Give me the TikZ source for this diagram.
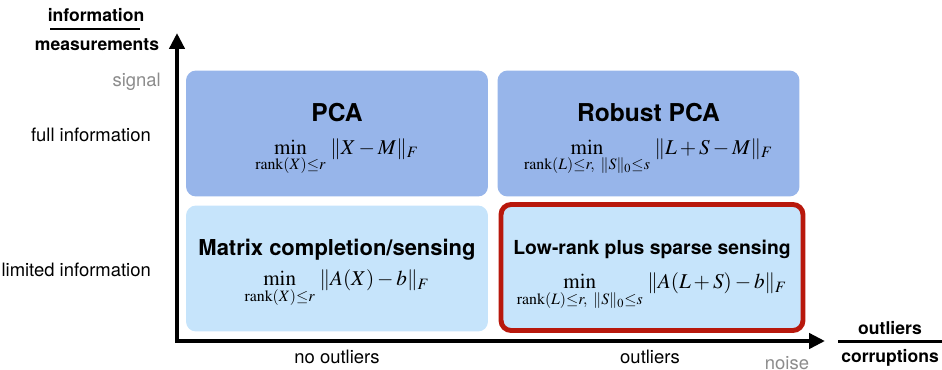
\documentclass[tikz,border=0pt]{standalone}
\usepackage{amsmath}
\usepackage{mathptmx}
\usepackage[no-math]{fontspec}
\setmainfont{TeX Gyre Heros}
\usetikzlibrary{arrows.meta}
\definecolor{fullblue}{RGB}{151,181,234}
\definecolor{limblue}{RGB}{198,228,251}
\definecolor{hired}{RGB}{184,24,12}
\definecolor{softgrey}{RGB}{140,140,140}
\tikzset{
  quad/.style={rounded corners=5.7pt, minimum width=6.04cm, minimum height=2.52cm, inner sep=0pt},
  quadtext/.style={align=center, inner sep=0pt, font=\fontsize{12}{14}\selectfont},
  axislabel/.style={font=\fontsize{10.5}{12}\selectfont},
  axistitle/.style={font=\fontsize{10}{12}\selectfont\bfseries},
  axisline/.style={line width=2.3pt, {Triangle[length=9pt,width=8.5pt]}-{Triangle[length=9pt,width=8.5pt]}},
}

\begin{document}
\begin{tikzpicture}[x=0.02cm,y=-0.02cm]
\useasboundingbox (0,0) rectangle (942,369);
% axes
\coordinate (O) at (177,341);
\coordinate (ytip) at (177,33);
\coordinate (xtip) at (825,341);
\draw[axisline] (ytip) -- (O) -- (xtip);
% quadrants
\node[quad, fill=fullblue] (pca) at (337,133.5) {};
\node[quad, fill=fullblue] (rpca) at (648.5,133.5) {};
\node[quad, fill=limblue] (mcs) at (337,268.5) {};
\node[quad, fill=limblue, draw=hired, line width=2.8pt] (lrss) at (652,267.5) {};
\node[quadtext, yshift=-3.4pt] (pcatxt) at (pca) {{\fontsize{14}{16}\selectfont\bfseries PCA}\\[5pt]
  $\displaystyle\min_{\operatorname{rank}(X)\le r}\,\|X-M\|_F$};
\node[quadtext, yshift=-3.4pt] (rpcatxt) at (rpca) {{\fontsize{14}{16}\selectfont\bfseries Robust PCA}\\[5pt]
  $\displaystyle\min_{\operatorname{rank}(L)\le r,\ \|S\|_0\le s}\,\|L+S-M\|_F$};
\node[quadtext, yshift=-2.6pt] (mcstxt) at (mcs) {{\fontsize{12.5}{15}\selectfont\bfseries Matrix completion/sensing}\\[3.5pt]
  $\displaystyle\min_{\operatorname{rank}(X)\le r}\,\|A(X)-b\|_F$};
\node[quadtext, yshift=-4.3pt] (lrsstxt) at (lrss) {{\fontsize{11}{13}\selectfont\bfseries Low-rank plus sparse sensing}\\[5.7pt]
  $\displaystyle\min_{\operatorname{rank}(L)\le r,\ \|S\|_0\le s}\,\|A(L+S)-b\|_F$};
% labels
\node[axislabel, text=softgrey, anchor=east] (signal) at (167,82) {signal};
\node[axislabel, anchor=east] (fullinfo) at (157,135) {full information};
\node[axislabel, anchor=east] (liminfo) at (157,270) {limited information};
\node[axislabel] (noout) at (337,357) {no outliers};
\node[axislabel] (out) at (650,357) {outliers};
\node[axislabel, text=softgrey] (noise) at (787,363) {noise};
\node[axistitle] (info) at (96,15) {information};
\draw[line width=1.4pt] (50,29) -- (140,29);
\node[axistitle] (meas) at (97,45) {measurements};
\node[axistitle] (outl) at (890,328) {outliers};
\draw[line width=1.4pt] (838,341.5) -- (942,341.5);
\node[axistitle] (corr) at (890,358) {corruptions};
\end{tikzpicture}
\end{document}
